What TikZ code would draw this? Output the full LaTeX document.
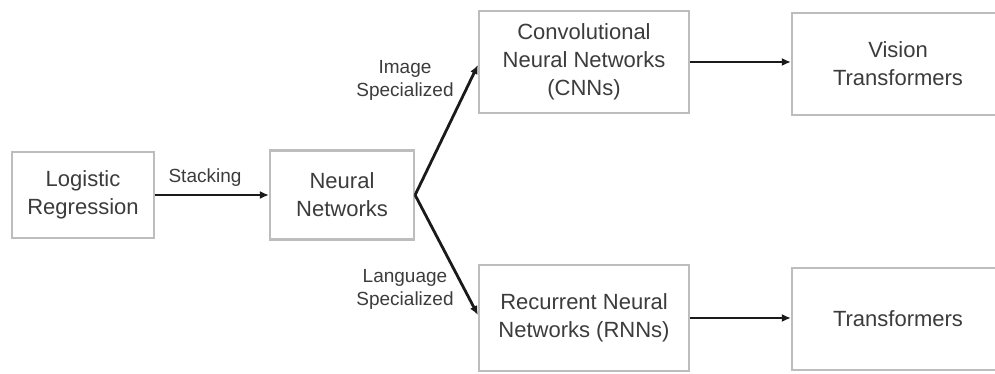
\documentclass[tikz,border=0pt]{standalone}
\usepackage{fontspec}
\setmainfont{Liberation Sans}
\usetikzlibrary{arrows.meta}
\definecolor{boxline}{HTML}{BDBDBD}
\definecolor{txt}{HTML}{3C3C3C}
\definecolor{arrcol}{HTML}{1A1A1A}
\begin{document}
\begin{tikzpicture}[x=1pt,y=-1pt,
  box/.style={draw=boxline, line width=2.2pt, fill=white, text=txt,
    font=\fontsize{22}{28}\selectfont, align=center, inner sep=0pt},
  lbl/.style={text=txt, font=\fontsize{19}{23}\selectfont, align=center, inner sep=0pt},
  arr/.style={draw=arrcol, line width=2.8pt, -{Latex[length=9pt,width=8pt]}}]
\clip (0,0) rectangle (995,373);
\fill[white] (0,0) rectangle (995,373);
\node[box, minimum width=142pt, minimum height=86pt] (lr) at (83,195) {Logistic\\Regression};
\node[box, minimum width=144pt, minimum height=89pt] (nn) at (342,195) {Neural\\Networks};
\node[box, minimum width=210pt, minimum height=102pt] (cnn) at (584,62) {Convolutional\\Neural Networks\\(CNNs)};
\node[box, minimum width=212pt, minimum height=102pt] (vt) at (898,64) {Vision\\Transformers};
\node[box, minimum width=210pt, minimum height=106pt] (rnn) at (584,318) {Recurrent Neural\\Networks (RNNs)};
\node[box, minimum width=212pt, minimum height=102pt] (tr) at (898,319) {Transformers};
\node[lbl] (lstack) at (205,178) {Stacking};
\node[lbl] (limg) at (405,80) {Image\\Specialized};
\node[lbl] (llang) at (405,289) {Language\\Specialized};
\draw[arr] (lr.east) -- (nn.west);
\draw[arr] (nn.east) -- ([yshift=-3pt]cnn.west);
\draw[arr] (nn.east) -- ([yshift=3pt]rnn.west);
\draw[arr] (cnn.east) -- (vt.west |- cnn.east);
\draw[arr] (rnn.east) -- (tr.west |- rnn.east);
\end{tikzpicture}
\end{document}
